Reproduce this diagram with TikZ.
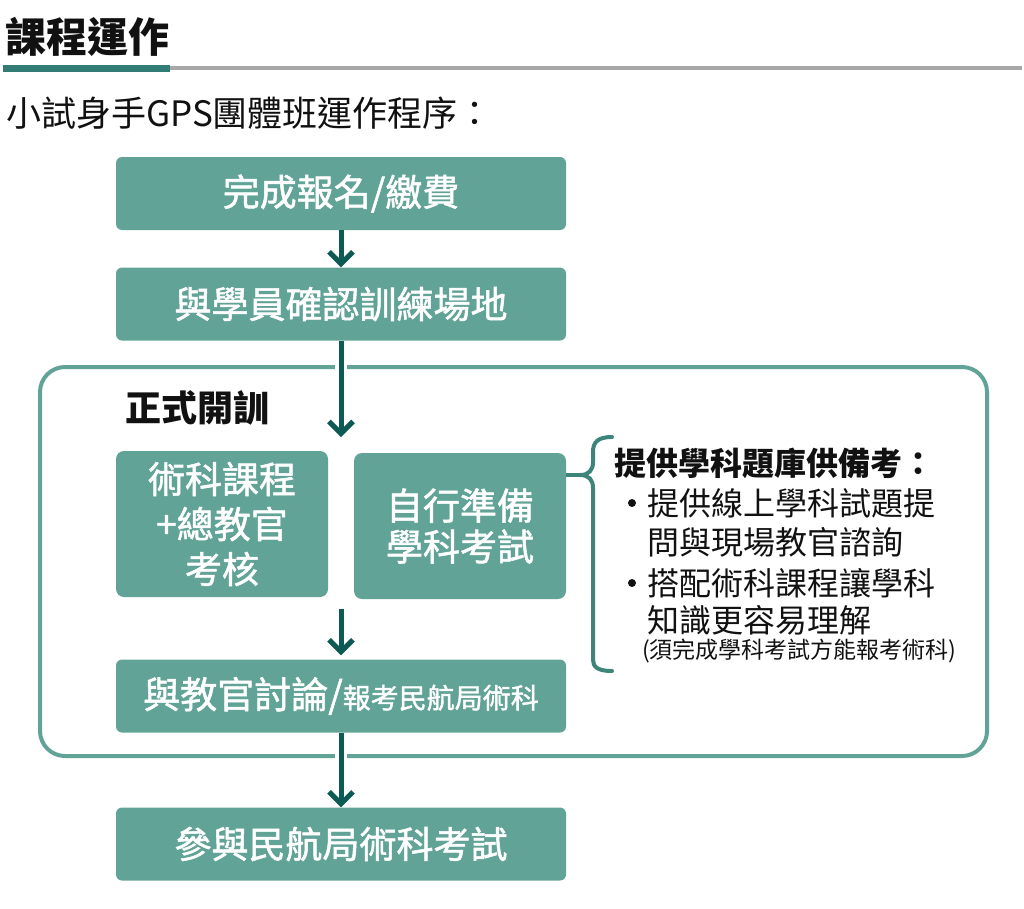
\documentclass[tikz,border=0pt]{standalone}
\usepackage{fontspec}
\setmainfont{Noto Sans CJK TC}
\newfontfamily\boxfont{Noto Sans CJK TC}[FakeBold=1.4]
\usetikzlibrary{arrows.meta,calc}
\definecolor{boxc}{HTML}{62A397}
\definecolor{framec}{HTML}{62A397}
\definecolor{arrc}{HTML}{0D5954}
\definecolor{bracec}{HTML}{3D847B}
\definecolor{titlebar}{HTML}{317C75}
\definecolor{grayline}{HTML}{A8A8A8}
\definecolor{txt}{HTML}{111111}
\tikzset{
  box/.style={fill=boxc, rounded corners=6pt, text=white, inner sep=0pt, align=center,
    font=\boxfont\fontsize{37}{45}\selectfont},
  wide/.style={minimum width=450pt, minimum height=73pt},
  tall/.style={minimum width=212pt, minimum height=146pt, rounded corners=8pt},
  arr/.style={draw=arrc, line width=5pt, -{Straight Barb[length=12pt,width=24pt]}},
  halo/.style={preaction={draw=white, line width=12pt, arrows=-}},
  framebox/.style={draw=framec, line width=4pt, rounded corners=25pt},
  bracepath/.style={draw=bracec, line width=4pt, line cap=round},
  lbl/.style={text=txt, inner sep=0pt, anchor=west},
  side/.style={lbl, font=\fontsize{32}{40}\selectfont},
  dot/.style={circle, fill=txt, inner sep=0pt, minimum size=8pt},
}
\begin{document}
\begin{tikzpicture}[x=1pt,y=-1pt]
\useasboundingbox (0,0) rectangle (1024,908);
% title
\node[lbl, font=\fontsize{41}{45}\selectfont\bfseries] (title) at (5,37) {課程運作};
\fill[titlebar] (3,65) rectangle (170,72);
\fill[grayline] (170,66) rectangle (1022,70);
\node[lbl, font=\fontsize{35}{40}\selectfont] (sub) at (6,113) {小試身手GPS團體班運作程序：};
% frame
\draw[framebox] (40,367) rectangle (987,756);
\node[lbl, font=\fontsize{36}{40}\selectfont\bfseries] (start) at (125,408) {正式開訓};
% boxes
\node[box, wide] (b1) at (341,193.5) {完成報名/繳費};
\node[box, wide] (b2) at (341,304) {與學員確認訓練場地};
\node[box, tall] (b3) at (222,524) {術科課程\\+總教官\\考核};
\node[box, tall, font=\boxfont\fontsize{37}{41}\selectfont] (b4) at (460,526) {自行準備\\學科考試};
\node[box, wide] (b5) at (341,696) {與教官討論/{\fontsize{28}{30}\selectfont 報考民航局術科}};
\node[box, wide] (b6) at (341,844) {參與民航局術科考試};
% connectors
\coordinate (in2) at (341,437);
\coordinate (out34) at (341,609);
\draw[arr] (b1.south) -- (b2.north);
\draw[arr, halo] (b2.south) -- (in2);
\draw[arr, shorten >=4pt] (out34) -- (b5.north);
\draw[arr, halo] (b5.south) -- (b6.north);
% brace
\coordinate (cusp) at (580,475);
\draw[bracepath] (612,437) .. controls (598,437) and (593,442) .. (593,452) -- (593,462)
  .. controls (593,470) and (589,475) .. (cusp)
  .. controls (589,475) and (593,480) .. (593,488) -- (593,660)
  .. controls (593,667) and (598,671) .. (612,671);
\draw[bracepath, line cap=butt] (b4.east |- cusp) -- (cusp);
% side text
\node[side, font=\fontsize{32}{40}\selectfont\bfseries] (s0) at (614,463) {提供學科題庫供備考：};
\node[dot] (d1) at (632,503) {};
\node[side] (s1) at (647,503) {提供線上學科試題提};
\node[side] (s2) at (647,542) {問與現場教官諮詢};
\node[dot] (d2) at (632,583) {};
\node[side] (s3) at (647,583) {搭配術科課程讓學科};
\node[side] (s4) at (647,620) {知識更容易理解};
\node[side, font=\fontsize{23}{26}\selectfont] (s5) at (642,651) {(須完成學科考試方能報考術科)};
\end{tikzpicture}
\end{document}
